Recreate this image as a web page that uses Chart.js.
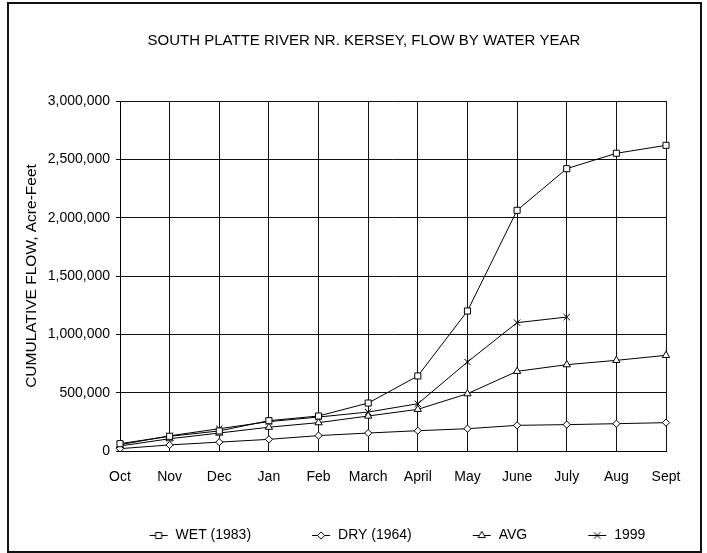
<!DOCTYPE html>
<html lang="en">
<head>
  <meta charset="UTF-8" />
  <title>South Platte River nr. Kersey</title>
  <script src="https://cdn.jsdelivr.net/npm/chart.js"></script>
  <style>
    html, body { margin: 0; padding: 0; background: #fff; }
  </style>
</head>
<body>
  <canvas id="flowChart" width="707" height="553"></canvas>

  <script>
    const months = ['Oct', 'Nov', 'Dec', 'Jan', 'Feb', 'March', 'April', 'May', 'June', 'July', 'Aug', 'Sept'];
    const wet1983 = [63000, 126000, 172000, 260000, 300000, 411000, 643000, 1200000, 2063000, 2420000, 2552000, 2620000];
    const dry1964 = [20000, 52000, 76000, 100000, 132000, 154000, 174000, 191000, 220000, 226000, 234000, 243000];
    const avgFlow = [43000, 105000, 154000, 204000, 243000, 300000, 357000, 491000, 683000, 740000, 777000, 820000];
    const flow1999 = [54000, 130000, 191000, 252000, 291000, 334000, 405000, 763000, 1100000, 1148000, null, null];
    const yTicks = [0, 500000, 1000000, 1500000, 2000000, 2500000, 3000000];

    const FONT = 'Liberation Sans, Arial, Helvetica, sans-serif';
    Chart.defaults.font.family = FONT;
    Chart.defaults.font.size = 14;
    Chart.defaults.color = '#000';

    // legend icon: a short line with the marker on it, pushed to the right end of a wide box
    const ICON_W = 70;
    function legendIcon(style, radius) {
      const c = document.createElement('canvas');
      c.width = ICON_W; c.height = 12;
      const ctx = c.getContext('2d');
      ctx.strokeStyle = '#000';
      ctx.lineWidth = 1;
      ctx.beginPath();
      ctx.moveTo(ICON_W - 19, 6.5);
      ctx.lineTo(ICON_W - 1, 6.5);
      ctx.stroke();
      ctx.fillStyle = '#fff';
      Chart.helpers.drawPoint(ctx, { pointStyle: style, radius: radius, borderWidth: 1, rotation: 0 }, ICON_W - 10, 6.5);
      return c;
    }

    function series(label, data, style, radius) {
      return {
        label: label,
        data: data,
        borderColor: '#000',
        backgroundColor: '#fff',
        borderWidth: 1,
        pointStyle: style,
        pointRadius: radius,
        pointBorderColor: '#000',
        pointBackgroundColor: '#fff',
        pointBorderWidth: 1,
        tension: 0,
        spanGaps: false,
        icon: legendIcon(style, radius)
      };
    }

    const frame = {
      id: 'frame',
      beforeDraw(chart) {
        const ctx = chart.ctx;
        ctx.save();
        ctx.fillStyle = '#fff';
        ctx.fillRect(0, 0, chart.width, chart.height);
        ctx.strokeStyle = '#111';
        ctx.lineWidth = 2;
        ctx.strokeRect(8, 3, 693, 549);
        ctx.restore();
      }
    };

    // nudge title and legend to where the original sits
    const nudge = {
      id: 'nudge',
      afterLayout(chart) {
        const shift = (box, dx) => { box.left += dx; box.right += dx; };
        shift(chart.titleBlock, 364 - (chart.titleBlock.left + chart.titleBlock.right) / 2);
        shift(chart.legend, 29);
      }
    };

    new Chart(document.getElementById('flowChart').getContext('2d'), {
      type: 'line',
      data: {
        labels: months,
        datasets: [
          series('WET (1983)', wet1983, 'rect', 4.3),
          series('DRY (1964)', dry1964, 'rectRot', 3.6),
          series('AVG', avgFlow, 'triangle', 4.2),
          series('1999', flow1999, 'crossRot', 4.5)
        ]
      },
      options: {
        responsive: false,
        animation: false,
        layout: { padding: { left: 20, right: 41, top: 4, bottom: 1 } },
        plugins: {
          tooltip: { enabled: false },
          title: {
            display: true,
            text: 'SOUTH PLATTE RIVER NR. KERSEY, FLOW BY WATER YEAR',
            font: { size: 15, weight: 'normal' },
            color: '#000',
            padding: { top: 28, bottom: 51 }
          },
          legend: {
            position: 'bottom',
            labels: {
              usePointStyle: true,
              pointStyleWidth: ICON_W,
              padding: 10,
              color: '#000',
              font: { size: 14 },
              generateLabels(chart) {
                return Chart.defaults.plugins.legend.labels.generateLabels(chart).map((item, i) => {
                  item.pointStyle = chart.data.datasets[i].icon;
                  return item;
                });
              }
            }
          }
        },
        scales: {
          x: {
            offset: false,
            grid: { color: '#111', lineWidth: 1, drawTicks: false },
            border: { color: '#000', width: 1 },
            ticks: { padding: 18, font: { size: 14 }, autoSkip: false, maxRotation: 0 },
            afterFit(scale) { scale.height = 67; }
          },
          y: {
            min: 0,
            max: 3000000,
            afterBuildTicks(scale) { scale.ticks = yTicks.map(v => ({ value: v })); },
            grid: { color: '#111', lineWidth: 1, tickLength: 4 },
            border: { color: '#000', width: 1 },
            ticks: {
              padding: 6,
              font: { size: 14 },
              callback: v => v.toLocaleString('en-US')
            },
            title: {
              display: true,
              text: 'CUMULATIVE FLOW, Acre-Feet',
              font: { size: 15.5 },
              color: '#000',
              padding: { top: 2, bottom: 0 }
            },
            afterFit(scale) { scale.width = 100; }
          }
        }
      },
      plugins: [frame, nudge]
    });
  </script>
</body>
</html>
